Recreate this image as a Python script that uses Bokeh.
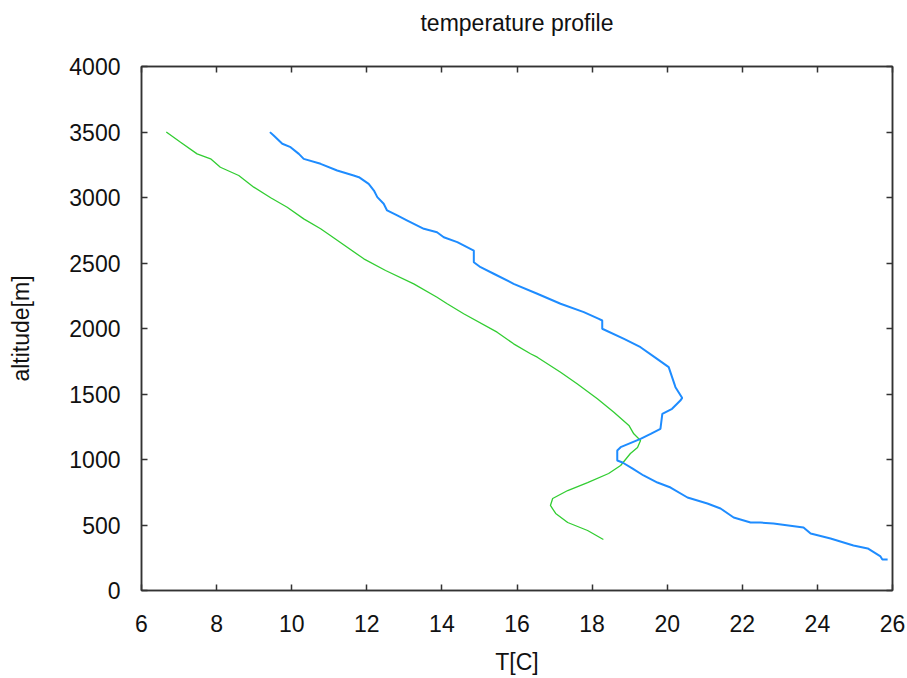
from bokeh.plotting import figure
from bokeh.models import LinearAxis, FixedTicker, Range1d
from bokeh.embed import file_html
from bokeh.resources import INLINE

# measured profile (blue) and reference profile (green)
meas_t = [9.42, 9.52, 9.75, 9.97, 10.19, 10.32, 10.77, 11.21, 11.65, 11.79, 12.05, 12.19,
          12.28, 12.45, 12.54, 12.81, 13.08, 13.52, 13.87, 14.05, 14.41, 14.85, 14.85, 15.03,
          15.38, 15.91, 16.54, 17.16, 17.78, 18.18, 18.27, 18.27, 18.85, 19.29, 19.73, 20.04,
          20.13, 20.22, 20.40, 20.35, 20.13, 19.87, 19.82, 19.56, 19.29, 18.76, 18.67, 18.67,
          18.81, 19.08, 19.37, 19.74, 20.09, 20.54, 21.07, 21.42, 21.77, 22.22, 22.48, 22.83,
          23.63, 23.82, 24.35, 24.96, 25.34, 25.68, 25.73, 25.87]
meas_alt = [3499, 3473, 3410, 3384, 3333, 3295, 3257, 3206, 3168, 3155, 3104, 3053,
            3003, 2952, 2901, 2863, 2824, 2761, 2735, 2697, 2659, 2595, 2506, 2468,
            2418, 2341, 2265, 2189, 2125, 2074, 2061, 1998, 1921, 1857, 1768, 1705,
            1629, 1552, 1470, 1450, 1387, 1349, 1234, 1196, 1158, 1094, 1069, 992,
            977, 931, 878, 824, 786, 710, 664, 626, 557, 519, 519, 511,
            481, 435, 397, 344, 321, 260, 237, 237]

ref_t = [6.66, 7.04, 7.48, 7.84, 8.10, 8.59, 8.99, 9.44, 9.88, 10.32, 10.77, 11.03,
         11.92, 12.50, 13.25, 13.87, 14.14, 14.58, 15.47, 15.91, 16.36, 16.54, 17.16, 17.60,
         18.14, 18.58, 18.98, 19.11, 19.29, 19.21, 19.02, 18.76, 18.44, 17.88, 17.35, 16.95,
         16.89, 17.03, 17.35, 17.88, 18.30]
ref_alt = [3500, 3422, 3333, 3295, 3231, 3168, 3079, 2998, 2926, 2837, 2761, 2710,
           2532, 2443, 2341, 2239, 2189, 2113, 1972, 1883, 1807, 1781, 1666, 1578,
           1463, 1361, 1260, 1196, 1145, 1092, 1046, 954, 893, 824, 763, 702,
           649, 588, 519, 458, 389]

x_ticks = [6, 8, 10, 12, 14, 16, 18, 20, 22, 24, 26]
y_ticks = [0, 500, 1000, 1500, 2000, 2500, 3000, 3500, 4000]

FONT = "Liberation Sans"
FS = "23px"

p = figure(width=907, height=678, output_backend="svg", toolbar_location=None,
           x_range=Range1d(6, 26), y_range=Range1d(0, 4000),
           title="temperature profile",
           min_border_left=141, min_border_right=15, min_border_top=66, min_border_bottom=88)

p.title.align = "center"
p.title.text_font = FONT
p.title.text_font_size = FS
p.title.text_font_style = "normal"
p.title.text_color = "#111111"
p.title.standoff = 0
use_spacer_label = False
try:
    p.title.padding = dict(top=0, right=0, bottom=31, left=0)
except Exception:
    use_spacer_label = True

p.grid.visible = False
p.outline_line_color = "#333333"
p.outline_line_width = 1.5
p.background_fill_color = "white"
p.border_fill_color = "white"

for ax, ticks in ((p.xaxis[0], x_ticks), (p.yaxis[0], y_ticks)):
    ax.ticker = FixedTicker(ticks=ticks)
    ax.major_tick_in = 6
    ax.major_tick_out = 0
    ax.minor_tick_line_color = None
    ax.axis_line_color = "#333333"
    ax.axis_line_width = 1.5
    ax.major_tick_line_color = "#333333"
    ax.major_tick_line_width = 1.5
    ax.major_label_text_font = FONT
    ax.major_label_text_font_size = FS
    ax.major_label_text_color = "#111111"
    ax.axis_label_text_font = FONT
    ax.axis_label_text_font_size = FS
    ax.axis_label_text_font_style = "normal"
    ax.axis_label_text_color = "#111111"

p.xaxis[0].axis_label = "T[C]"
p.xaxis[0].major_label_standoff = 24
p.xaxis[0].axis_label_standoff = 14
p.yaxis[0].axis_label = "altitude[m]"
p.yaxis[0].major_label_standoff = 21
p.yaxis[0].axis_label_standoff = 32

# mirrored ticks on top and right
for side, ticks in (("above", x_ticks), ("right", y_ticks)):
    ax = LinearAxis(ticker=FixedTicker(ticks=ticks))
    ax.major_tick_in = 6
    ax.major_tick_out = 0
    ax.minor_tick_line_color = None
    ax.axis_line_color = "#333333"
    ax.axis_line_width = 1.5
    ax.major_tick_line_color = "#333333"
    ax.major_tick_line_width = 1.5
    ax.major_label_text_color = None
    ax.major_label_text_font_size = "1px"
    ax.major_label_standoff = 0
    if side == "above" and use_spacer_label:
        ax.axis_label = " "
        ax.axis_label_text_font_size = "23px"
        ax.axis_label_standoff = 4
    p.add_layout(ax, side)

p.line(ref_t, ref_alt, line_color="#32cd32", line_width=1.3)
p.line(meas_t, meas_alt, line_color="#1e8cff", line_width=2)

open("out.html", "w").write(file_html(p, INLINE))
